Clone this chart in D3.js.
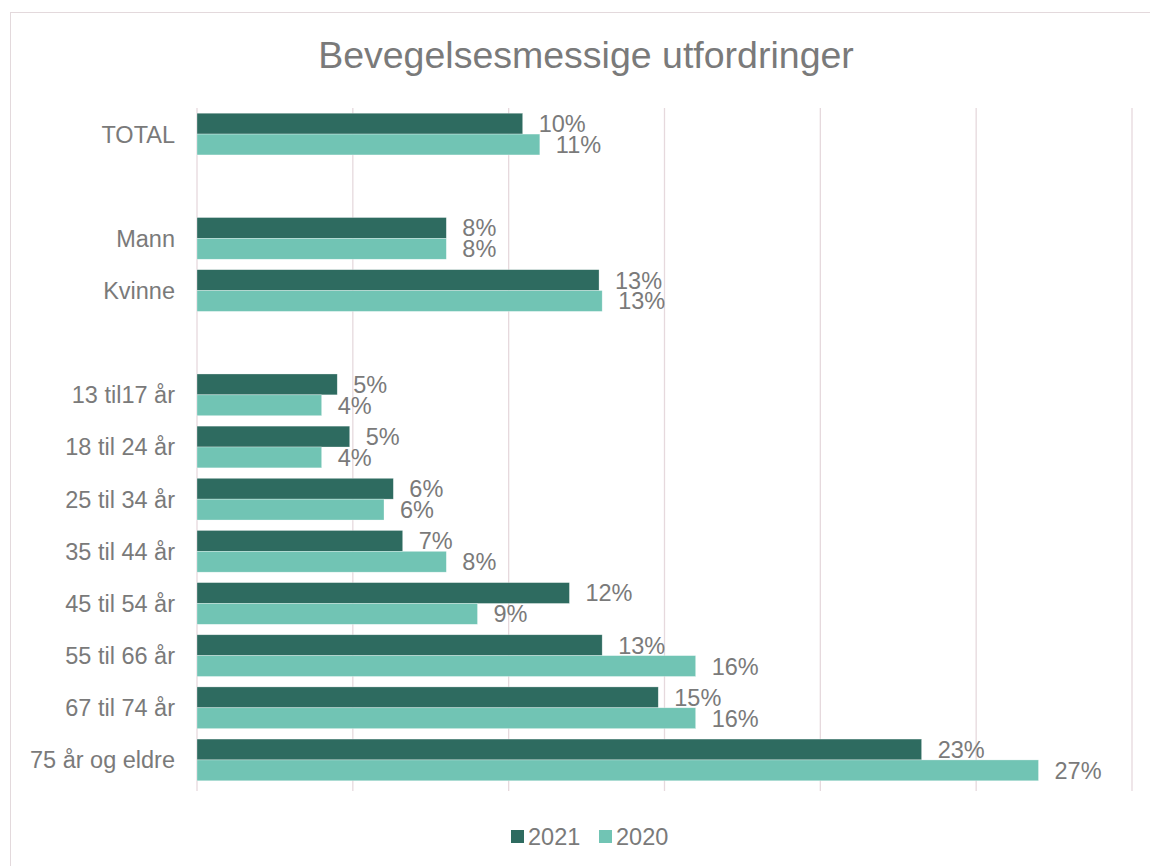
<!DOCTYPE html>
<html lang="no">

<head>
    <meta charset="UTF-8">
    <title>Bevegelsesmessige utfordringer</title>
    <script src="https://cdn.jsdelivr.net/npm/d3@7"></script>
    <style>
        body { margin: 0; background: #fff; }
        text { font-family: "Liberation Sans", Arial, sans-serif; fill: #7a7a7a; }
    </style>
</head>

<body>
    <svg id="main" width="1150" height="866"></svg>
    <script>
        // categories, blank strings are the empty spacer rows
        const categories = ['TOTAL', '', 'Mann', 'Kvinne', ' ', '13 til17 år', '18 til 24 år', '25 til 34 år',
            '35 til 44 år', '45 til 54 år', '55 til 66 år', '67 til 74 år', '75 år og eldre'];
        const values2021 = [10.45, null, 8.0, 12.9, null, 4.5, 4.9, 6.3, 6.6, 11.95, 13.0, 14.8, 23.25];
        const values2020 = [11.0, null, 8.0, 13.0, null, 4.0, 4.0, 6.0, 8.0, 9.0, 16.0, 16.0, 27.0];
        const labels2021 = ['10%', '', '8%', '13%', '', '5%', '5%', '6%', '7%', '12%', '13%', '15%', '23%'];
        const labels2020 = ['11%', '', '8%', '13%', '', '4%', '4%', '6%', '8%', '9%', '16%', '16%', '27%'];
        const xTicks = [0, 5, 10, 15, 20, 25, 30];
        const seriesNames = ['2021', '2020'];
        const colors = ['#2e6b60', '#71c4b4'];

        const svg = d3.select('#main');

        // outer frame
        svg.append('rect')
            .attr('x', 10.5).attr('y', 12.5)
            .attr('width', 1160).attr('height', 870)
            .attr('fill', 'none')
            .attr('stroke', '#e3d9dc');

        svg.append('text')
            .attr('x', 586).attr('y', 68)
            .attr('text-anchor', 'middle')
            .style('font-size', '37.5px')
            .text('Bevegelsesmessige utfordringer');

        const x = d3.scaleLinear().domain([0, 30]).range([197, 1132]);
        const y = d3.scaleBand().domain(categories).range([108, 786]).paddingInner(0.2).paddingOuter(0.1);
        const y1 = d3.scaleBand().domain(seriesNames).range([0, y.bandwidth()]);

        // gridlines + ticks
        svg.append('g')
            .selectAll('line')
            .data(xTicks)
            .join('line')
            .attr('x1', d => x(d)).attr('x2', d => x(d))
            .attr('y1', 108).attr('y2', 791)
            .attr('stroke', '#e6d9dd')
            .attr('stroke-width', 1.3);

        const series = [values2021, values2020];
        const seriesLabels = [labels2021, labels2020];

        series.forEach((vals, si) => {
            const rows = categories.map((c, i) => ({ c, v: vals[i], label: seriesLabels[si][i] }))
                .filter(d => d.v !== null);
            const g = svg.append('g');
            g.selectAll('rect')
                .data(rows)
                .join('rect')
                .attr('x', x(0))
                .attr('y', d => y(d.c) + y1(seriesNames[si]))
                .attr('width', d => x(d.v) - x(0))
                .attr('height', y1.bandwidth())
                .attr('fill', colors[si])
                .attr('stroke', '#ffffff')
                .attr('stroke-opacity', 0.5)
                .attr('stroke-width', 0.6);
            g.selectAll('text')
                .data(rows)
                .join('text')
                .attr('x', d => x(d.v) + 16)
                .attr('y', d => y(d.c) + y1(seriesNames[si]) + y1.bandwidth() / 2)
                .attr('dy', '0.36em')
                .style('font-size', '23.5px')
                .text(d => d.label);
        });

        // category labels
        svg.append('g')
            .selectAll('text')
            .data(categories.filter(c => c.trim() !== ''))
            .join('text')
            .attr('x', 175)
            .attr('y', d => y(d) + y.bandwidth() / 2)
            .attr('dy', '0.36em')
            .attr('text-anchor', 'end')
            .style('font-size', '23.5px')
            .text(d => d);

        // legend
        const legend = svg.append('g');
        const legendX = [511, 599];
        seriesNames.forEach((name, i) => {
            legend.append('rect')
                .attr('x', legendX[i]).attr('y', 830)
                .attr('width', 13).attr('height', 13)
                .attr('fill', colors[i]);
            legend.append('text')
                .attr('x', legendX[i] + 17).attr('y', 837)
                .attr('dy', '0.36em')
                .style('font-size', '23.5px')
                .text(name);
        });
    </script>
</body>

</html>
